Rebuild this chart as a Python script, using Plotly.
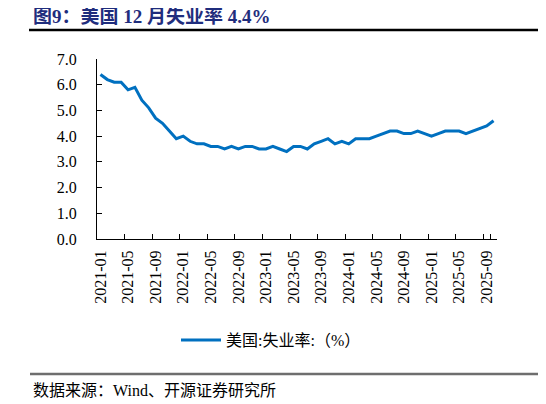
import plotly.graph_objects as go

# 美国失业率（%），2021-01 至 2025-11（2025-10 无数据）
months = (
    [f"2021-{m:02d}" for m in range(1, 13)]
    + [f"2022-{m:02d}" for m in range(1, 13)]
    + [f"2023-{m:02d}" for m in range(1, 13)]
    + [f"2024-{m:02d}" for m in range(1, 13)]
    + [f"2025-{m:02d}" for m in range(1, 10)]
    + ["2025-11"]
)
unemployment = [
    6.4, 6.2, 6.1, 6.1, 5.8, 5.9, 5.4, 5.1, 4.7, 4.5, 4.2, 3.9,
    4.0, 3.8, 3.7, 3.7, 3.6, 3.6, 3.5, 3.6, 3.5, 3.6, 3.6, 3.5,
    3.5, 3.6, 3.5, 3.4, 3.6, 3.6, 3.5, 3.7, 3.8, 3.9, 3.7, 3.8,
    3.7, 3.9, 3.9, 3.9, 4.0, 4.1, 4.2, 4.2, 4.1, 4.1, 4.2, 4.1,
    4.0, 4.1, 4.2, 4.2, 4.2, 4.1, 4.2, 4.3, 4.4, 4.6,
]
tick_labels = months[0:57:4]

# the page has an 8px body margin, so the figure is drawn 8px smaller
OFF = 8
W, H = 546 - OFF, 404 - OFF
FONT = "Times New Roman, Liberation Serif, Noto Sans CJK SC, serif"


def px(x):
    return (x - OFF) / W


def py(y):
    return 1 - (y - OFF) / H


fig = go.Figure()
fig.add_trace(go.Scatter(
    x=months,
    y=unemployment,
    mode="lines",
    name="美国:失业率:（%）",
    line=dict(color="#0070C0", width=3),
))

fig.update_layout(
    width=W,
    height=H,
    margin=dict(l=0, r=0, t=0, b=0, autoexpand=False),
    paper_bgcolor="white",
    plot_bgcolor="white",
    font=dict(family=FONT, size=16, color="black"),
    showlegend=True,
    legend=dict(
        orientation="h",
        x=px(176), xanchor="left",
        y=py(340), yanchor="middle",
        font=dict(size=16),
        itemwidth=40,
    ),
    xaxis=dict(
        domain=[px(97), px(497)],
        type="category",
        range=[-0.5, len(months) - 0.5],
        tickvals=tick_labels,
        ticktext=tick_labels,
        tickangle=-90,
        ticks="inside",
        ticklen=5,
        tickson="boundaries",
        tickcolor="black",
        showline=True,
        linecolor="black",
        linewidth=1,
        showgrid=False,
        zeroline=False,
        automargin=False,
        ticklabelstandoff=4,
        tickfont=dict(size=16),
    ),
    yaxis=dict(
        domain=[py(239), py(59)],
        range=[0, 7],
        dtick=1,
        tickformat=".1f",
        ticks="inside",
        ticklen=5,
        tickcolor="black",
        showline=True,
        linecolor="black",
        linewidth=1,
        showgrid=False,
        zeroline=False,
        automargin=False,
        ticklabelstandoff=16,
        tickfont=dict(size=16),
    ),
)

# 标题、分隔线和来源
fig.add_annotation(
    text="<b>图9：美国 12 月失业率 4.4%</b>",
    xref="paper", yref="paper",
    x=px(31), y=py(17),
    xanchor="left", yanchor="middle",
    showarrow=False,
    font=dict(family=FONT, size=19, color="#1f2d7d"),
)
fig.add_shape(type="line", xref="paper", yref="paper",
              x0=px(29), x1=1.0, y0=py(30), y1=py(30),
              line=dict(color="black", width=2.5))
fig.add_shape(type="line", xref="paper", yref="paper",
              x0=px(30), x1=1.0, y0=py(374), y1=py(374),
              line=dict(color="#6e6e6e", width=2.5))
fig.add_annotation(
    text="数据来源：Wind、开源证券研究所",
    xref="paper", yref="paper",
    x=px(31), y=py(390),
    xanchor="left", yanchor="middle",
    showarrow=False,
    font=dict(family=FONT, size=16, color="black"),
)

fig.write_html("out.html")
